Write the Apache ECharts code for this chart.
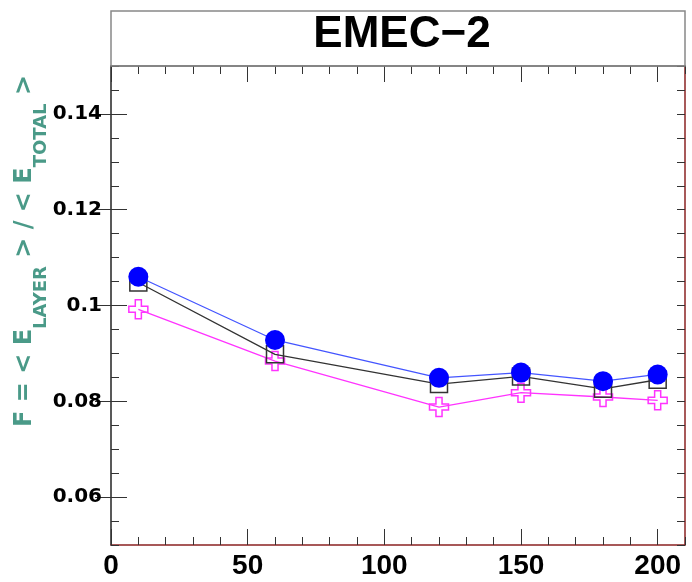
<!DOCTYPE html>
<html>
<head>
<meta charset="utf-8">
<script src="https://cdn.jsdelivr.net/npm/echarts@6/dist/echarts.min.js"></script>
<style>
  html, body { margin: 0; padding: 0; background: #fff; }
  #chart { width: 692px; height: 582px; }
</style>
</head>
<body>
<div id="chart"></div>
<script>
// Beam energy points (x) and layer energy fractions for three samples
const energies = [10, 60, 120, 150, 180, 200];
const fracCircles = [0.106, 0.0928, 0.0849, 0.0860, 0.0842, 0.0856];
const fracSquares = [0.1048, 0.0898, 0.0836, 0.0852, 0.0826, 0.0845];
const fracCrosses = [0.0992, 0.0884, 0.0788, 0.0818, 0.0809, 0.0802];

// Axis ticks
const xMajorTicks = [0, 50, 100, 150, 200];
const yMajorTicks = [0.06, 0.08, 0.1, 0.12, 0.14];

const titleText = 'EMEC\u22122';

const pair = (xs, ys) => xs.map((x, i) => [x, ys[i]]);

const crossPath = 'path://M3.4,0 L6.6,0 L6.6,3.4 L10,3.4 L10,6.6 L6.6,6.6 L6.6,10 L3.4,10 L3.4,6.6 L0,6.6 L0,3.4 L3.4,3.4 Z';

const tickColor = '#333';
const frameRed = '#8a2222';

function xAxisPair(pos, lineColor, withLabels) {
  return [
    {
      type: 'value', position: pos, min: 0, max: 210, interval: 10,
      axisLine: { show: true, onZero: false, lineStyle: { color: lineColor, width: 1.5 } },
      axisTick: { show: true, inside: true, length: 8, lineStyle: { color: tickColor, width: 1 } },
      axisLabel: { show: false },
      splitLine: { show: false }
    },
    {
      type: 'value', position: pos, min: 0, max: 210,
      axisLine: { show: false },
      axisTick: { show: true, inside: true, length: 16, customValues: xMajorTicks, lineStyle: { color: tickColor, width: 1 } },
      axisLabel: withLabels ? {
        show: true, customValues: xMajorTicks, margin: 7,
        fontFamily: 'Liberation Sans', fontWeight: 'bold', fontSize: 28, color: '#000'
      } : { show: false },
      splitLine: { show: false }
    }
  ];
}

function yAxisPair(pos, lineColor, withLabels) {
  return [
    {
      type: 'value', position: pos, min: 0.05, max: 0.15, interval: 0.005,
      axisLine: { show: true, onZero: false, lineStyle: { color: lineColor, width: 1.5 } },
      axisTick: { show: true, inside: true, length: 8, lineStyle: { color: tickColor, width: 1 } },
      axisLabel: { show: false },
      splitLine: { show: false }
    },
    {
      type: 'value', position: pos, min: 0.05, max: 0.15,
      axisLine: { show: false },
      axisTick: { show: true, inside: true, length: 16, customValues: yMajorTicks, lineStyle: { color: tickColor, width: 1 } },
      axisLabel: withLabels ? {
        show: true, customValues: yMajorTicks, margin: 9,
        fontFamily: 'DejaVu Sans', fontWeight: 'bold', fontSize: 20, color: '#000'
      } : { show: false },
      splitLine: { show: false }
    }
  ];
}

const chart = echarts.init(document.getElementById('chart'), null, { renderer: 'canvas' });

chart.setOption({
  animation: false,
  backgroundColor: '#fff',
  grid: { left: 111, right: 7, top: 66, bottom: 37 },
  xAxis: [
    ...xAxisPair('bottom', frameRed, true),
    ...xAxisPair('top', '#555', false)
  ],
  yAxis: [
    ...yAxisPair('left', '#222', true),
    ...yAxisPair('right', frameRed, false)
  ],
  graphic: [
    {
      type: 'rect',
      shape: { x: 111, y: 11, width: 574, height: 55 },
      style: { fill: 'none', stroke: '#888', lineWidth: 1.5 },
      z: 10
    },
    {
      type: 'text',
      x: 402, y: 35,
      style: {
        text: titleText,
        fontFamily: 'Liberation Sans', fontWeight: 'bold', fontSize: 44,
        fill: '#000', align: 'center', verticalAlign: 'middle'
      },
      z: 10
    },
    {
      type: 'text',
      x: 41, y: 251,
      rotation: Math.PI / 2,
      style: {
        text: '{m|F = < E}{s|LAYER}{m| > / < E}{s|TOTAL}{m| >}',
        align: 'center', verticalAlign: 'middle',
        rich: {
          m: { fontFamily: 'DejaVu Sans', fontWeight: 'bold', fontSize: 24, fill: '#4a9a88', height: 24, lineHeight: 24, verticalAlign: 'top' },
          s: { fontFamily: 'DejaVu Sans', fontWeight: 'bold', fontSize: 18, fill: '#4a9a88', height: 56, lineHeight: 56, verticalAlign: 'top' }
        }
      },
      z: 10
    }
  ],
  series: [
    {
      name: 'crosses', type: 'line', xAxisIndex: 0, yAxisIndex: 0,
      data: pair(energies, fracCrosses),
      symbol: crossPath, symbolSize: 19, symbolKeepAspect: true,
      lineStyle: { color: '#ff33ff', width: 1.3 },
      itemStyle: { color: 'rgba(255,255,255,0)', borderColor: '#ff33ff', borderWidth: 1.5 },
      z: 3
    },
    {
      name: 'squares', type: 'line', xAxisIndex: 0, yAxisIndex: 0,
      data: pair(energies, fracSquares),
      symbol: 'rect', symbolSize: 17,
      lineStyle: { color: '#333', width: 1.3 },
      itemStyle: { color: 'rgba(255,255,255,0)', borderColor: '#333', borderWidth: 1.5 },
      z: 4
    },
    {
      name: 'circles', type: 'line', xAxisIndex: 0, yAxisIndex: 0,
      data: pair(energies, fracCircles),
      symbol: 'circle', symbolSize: 20,
      lineStyle: { color: '#4455ff', width: 1.3 },
      itemStyle: { color: '#0000ff' },
      z: 5
    }
  ]
});
</script>
</body>
</html>
